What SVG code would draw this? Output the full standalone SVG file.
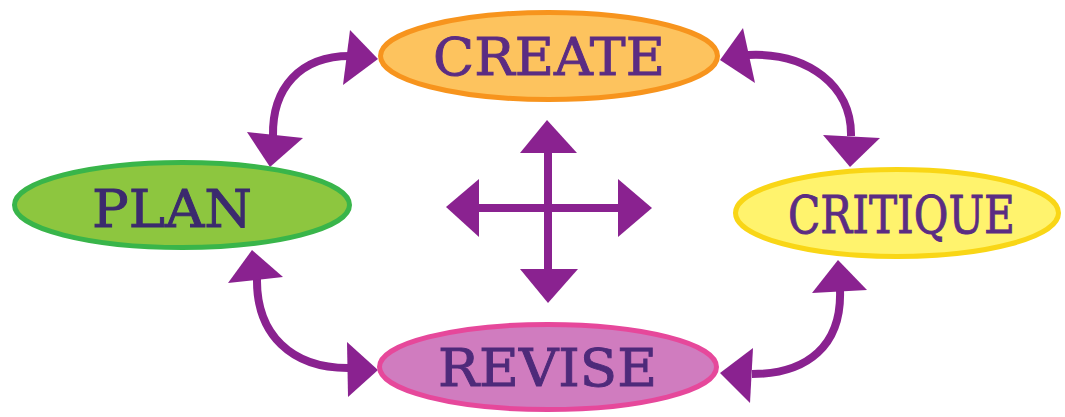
<svg xmlns="http://www.w3.org/2000/svg" width="1065" height="417" viewBox="0 0 1065 417">
  <style>
    .node { stroke-width: 5; }
    .label { font-family: "DejaVu Serif", "Liberation Serif", serif; font-size: 52px; stroke-width: 0.9; }
    .link { fill: none; stroke: #8A2290; stroke-width: 8; }
    .head { fill: #8A2290; }
  </style>
  <rect width="1065" height="417" fill="#ffffff"/>

  <!-- connectors between the stages, plus the central four-way cross -->
  <g id="connectors">
    <!-- CREATE <-> PLAN -->
    <path class="link" d="M 350,56 C 300,56 272,88 273,136"/>
    <polygon class="head" points="378,59 350,30 343,85"/>
    <polygon class="head" points="270,167 247,132 303,138"/>

    <!-- CREATE <-> CRITIQUE -->
    <path class="link" d="M 748,55 C 808,52 852,86 851,136"/>
    <polygon class="head" points="720,60 743,28 755,83"/>
    <polygon class="head" points="850,167 823,135 880,138"/>

    <!-- PLAN <-> REVISE -->
    <path class="link" d="M 257,278 C 256,335 292,368 348,368"/>
    <polygon class="head" points="252,250 228,283 283,277"/>
    <polygon class="head" points="378,370 347,342 348,397"/>

    <!-- CRITIQUE <-> REVISE -->
    <path class="link" d="M 840,290 C 842,345 808,374 752,374"/>
    <polygon class="head" points="838,260 812,293 867,290"/>
    <polygon class="head" points="720,373 753,348 750,403"/>

    <!-- central cross -->
    <line class="link" x1="548" y1="150" x2="548" y2="272" stroke-width="7.5"/>
    <line class="link" x1="476" y1="208" x2="621" y2="208" stroke-width="7.5"/>
    <polygon class="head" points="547,120 520,153 577,153"/>
    <polygon class="head" points="548,303 520,269 578,269"/>
    <polygon class="head" points="446,207 479,179 479,237"/>
    <polygon class="head" points="652,208 618,179 618,237"/>
  </g>

  <g id="create">
    <ellipse class="node" cx="549" cy="56" rx="168.5" ry="43.5" fill="#FDC35E" stroke="#F7941D"/>
    <text class="label" x="433" y="75" textLength="232" lengthAdjust="spacingAndGlyphs" fill="#5B2C83" stroke="#5B2C83">CREATE</text>
  </g>

  <g id="plan">
    <ellipse class="node" cx="182" cy="205" rx="167.5" ry="42.5" fill="#8DC63F" stroke="#39B54A"/>
    <text class="label" x="92" y="227" textLength="160" lengthAdjust="spacingAndGlyphs" fill="#3B2A6E" stroke="#3B2A6E">PLAN</text>
  </g>

  <g id="critique">
    <ellipse class="node" cx="897" cy="213" rx="161.5" ry="43.5" fill="#FFF36D" stroke="#F9D616"/>
    <text class="label" x="788" y="233" textLength="227" lengthAdjust="spacingAndGlyphs" fill="#5B2C83" stroke="#5B2C83">CRITIQUE</text>
  </g>

  <g id="revise">
    <ellipse class="node" cx="548" cy="367" rx="168.5" ry="42.5" fill="#D07CBF" stroke="#E6489B"/>
    <text class="label" x="438" y="386" textLength="219" lengthAdjust="spacingAndGlyphs" fill="#4E2A7A" stroke="#4E2A7A">REVISE</text>
  </g>
</svg>
